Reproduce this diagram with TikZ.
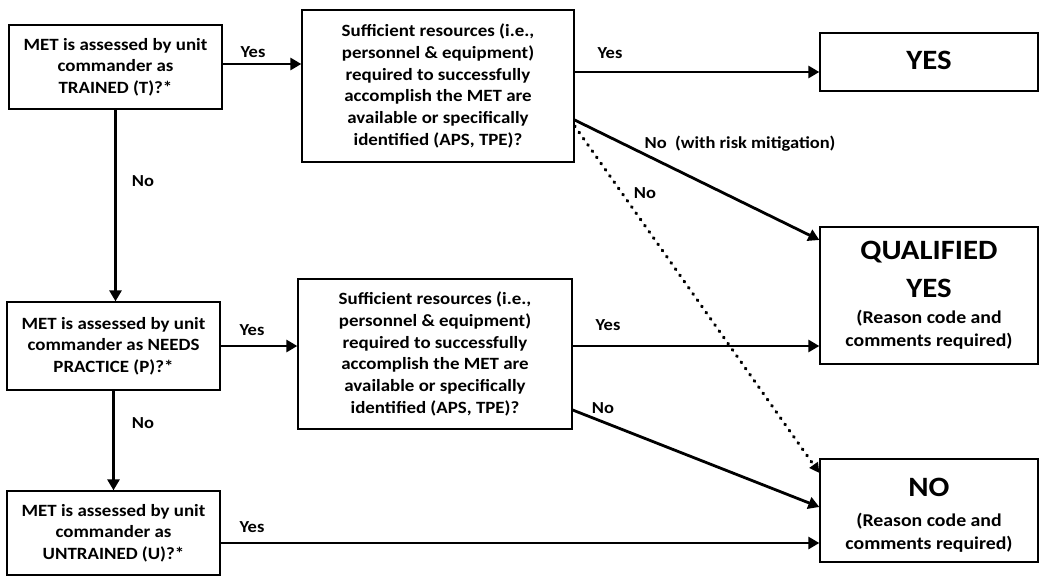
\documentclass[tikz,border=0pt]{standalone}
\usepackage{fontspec}
\setmainfont{Carlito}[FakeStretch=1.1]
\usetikzlibrary{arrows.meta}
\begin{document}
\begin{tikzpicture}[x=1pt,y=-1pt,
  box/.style={draw, line width=1.3pt, align=center, inner sep=0pt,
    font=\bfseries\fontsize{17.2}{21.7}\selectfont},
  outbox/.style={box, minimum width=218pt,
    font=\bfseries\fontsize{18}{23}\selectfont},
  flow/.style={line width=2.8pt, -{Triangle[length=11pt,width=12pt]}},
  dots/.style={line width=3.2pt, line cap=round, dash pattern=on 0.8pt off 6.8pt,
    -{Triangle[length=10pt,width=10pt]}},
  lbl/.style={font=\bfseries\fontsize{16.8}{20}\selectfont, inner sep=0pt}]
\useasboundingbox (0,0) rectangle (1039,578);
\clip (0,0) rectangle (1039,578);

% decision boxes
\node[box, minimum width=213pt, minimum height=84pt] (T) at (115.5,67)
  {MET is assessed by unit\\commander as\\TRAINED (T)?*};
\node[box, minimum width=213pt, minimum height=88pt] (P) at (113.5,346)
  {MET is assessed by unit\\commander as NEEDS\\PRACTICE (P)?*};
\node[box, minimum width=213pt, minimum height=84pt] (U) at (113.5,533)
  {MET is assessed by unit\\commander as\\UNTRAINED (U)?*};
\node[box, minimum width=272pt, minimum height=152pt] (R1) at (438,86)
  {Sufficient resources (i.e.,\\personnel \& equipment)\\required to successfully\\accomplish the MET are\\available or specifically\\identified (APS, TPE)?};
\node[box, minimum width=274pt, minimum height=150pt] (R2) at (435,354)
  {Sufficient resources (i.e.,\\personnel \& equipment)\\required to successfully\\accomplish the MET are\\available or specifically\\identified (APS, TPE)?};

% outcome boxes
\node[outbox, minimum height=58pt, text depth=3pt] (Y) at (929,62)
  {\fontsize{28}{28}\selectfont YES};
\node[outbox, minimum height=137pt] (Q) at (929,295.5)
  {\fontsize{28}{28}\selectfont QUALIFIED\\[15pt]
   \fontsize{28}{28}\selectfont YES\\[3pt]
   (Reason code and\\comments required)};
\node[outbox, minimum height=103pt] (N) at (929,510.5)
  {\rule{0pt}{27pt}\fontsize{28}{28}\selectfont NO\\[7pt]
   (Reason code and\\comments required)};

% connectors
\draw[flow] ([yshift=3pt]T.east) -- ([yshift=3pt]T.east -| R1.west);
\draw[flow] (T.south) -- (T.south |- P.north);
\draw[flow] ([yshift=14pt]R1.east) -- ([yshift=14pt]R1.east -| Y.west);
\draw[flow] ([yshift=-34pt]R1.east) -- ([yshift=55.5pt]Q.west);
\draw[dots] ([yshift=-40pt]R1.east) -- ([yshift=37.5pt]N.west);
\draw[flow] (P.east) -- (P.east -| R2.west);
\draw[flow] (P.south) -- (P.south |- U.north);
\draw[flow] ([yshift=8pt]R2.east) -- ([yshift=8pt]R2.east -| Q.west);
\draw[flow] ([yshift=-56pt]R2.east) -- ([yshift=3.5pt]N.west);
\draw[flow] ([yshift=-10pt]U.east) -- ([yshift=-10pt]U.east -| N.west);

% connector labels
\node[lbl] (l1) at (253,52) {Yes};
\node[lbl] (l2) at (143,181) {No};
\node[lbl] (l3) at (610,53) {Yes};
\node[lbl] (l4) at (740,144) {No\ \ (with risk mitigation)};
\node[lbl] (l5) at (645,193) {No};
\node[lbl] (l6) at (252,330) {Yes};
\node[lbl] (l7) at (143,423) {No};
\node[lbl] (l8) at (608,325) {Yes};
\node[lbl] (l9) at (603,408) {No};
\node[lbl] (l10) at (252,527) {Yes};
\end{tikzpicture}
\end{document}
